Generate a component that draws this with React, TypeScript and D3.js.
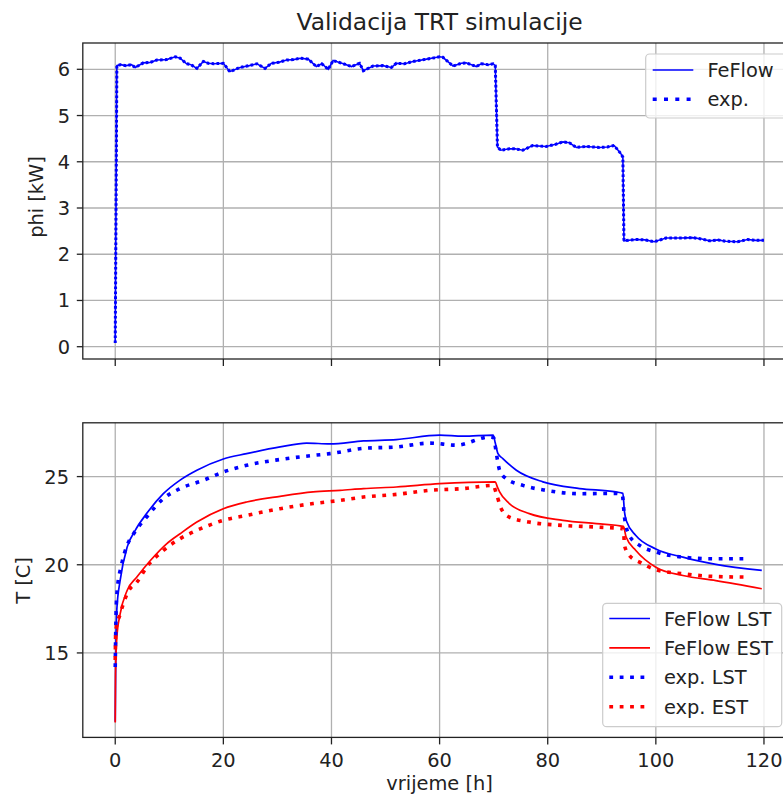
import React from 'react';
import * as d3 from 'd3';

// ---------- data ----------
const chartTitle = 'Validacija TRT simulacije';
const xTicks = [0, 20, 40, 60, 80, 100, 120];
const phiTicks = [0, 1, 2, 3, 4, 5, 6];
const tempTicks = [15, 20, 25];

// heat rate phi [kW] (FeFlow input == experiment)
const phiTime = [0, 0.3, 0.9, 2.0, 3.0, 3.7, 5.2, 6.5, 7.7, 9.5, 11.1, 12.0, 13.2, 14.0, 15.1, 16.3, 17.2, 18.2, 20.0, 21.2, 23.1, 24.8, 26.2, 27.7, 28.9, 30.2, 31.7, 33.0, 34.2, 35.7, 37.2, 38.2, 39.4, 40.3, 42.2, 43.7, 45.2, 45.9, 47.7, 49.5, 51.1, 52.0, 53.5, 55.1, 57.6, 60.0, 60.6, 62.5, 64.0, 64.9, 66.8, 67.7, 69.0, 69.9, 70.3, 70.7, 71.3, 72.9, 74.0, 75.4, 77.2, 79.7, 81.5, 82.8, 84.0, 85.3, 87.1, 89.6, 91.0, 92.3, 93.5, 93.9, 94.1, 96.3, 98.0, 99.7, 101.9, 104.5, 106.8, 108.5, 109.9, 111.5, 112.9, 115.1, 117.0, 118.5, 120.0];
const phiValues = [0.08, 6.08, 6.1, 6.08, 6.1, 6.04, 6.14, 6.15, 6.2, 6.21, 6.27, 6.24, 6.12, 6.1, 6.02, 6.17, 6.13, 6.12, 6.13, 5.95, 6.04, 6.08, 6.12, 6.02, 6.13, 6.15, 6.2, 6.21, 6.24, 6.22, 6.06, 6.12, 6.0, 6.19, 6.12, 6.06, 6.13, 5.97, 6.07, 6.08, 6.04, 6.13, 6.12, 6.17, 6.22, 6.27, 6.26, 6.07, 6.13, 6.14, 6.06, 6.12, 6.1, 6.12, 6.08, 4.32, 4.25, 4.28, 4.28, 4.25, 4.35, 4.33, 4.38, 4.43, 4.41, 4.31, 4.33, 4.31, 4.32, 4.35, 4.18, 4.1, 2.29, 2.32, 2.31, 2.27, 2.35, 2.35, 2.36, 2.33, 2.29, 2.31, 2.28, 2.27, 2.32, 2.3, 2.3];

// FeFlow LST
const lstFeflowTime = [0, 0.1, 0.3, 0.9, 2.2, 3.7, 5.8, 8.9, 12.0, 15.1, 20.0, 24.3, 30.5, 35.4, 39.7, 45.9, 52.0, 60.0, 64.3, 69.9, 70.3, 70.8, 71.7, 74.2, 79.1, 85.9, 92.6, 93.9, 94.2, 94.6, 96.3, 100.0, 105.0, 111.1, 119.6];
const lstFeflowValues = [11.1, 15.0, 17.5, 19.1, 21.0, 21.95, 22.9, 24.03, 24.8, 25.36, 26.0, 26.3, 26.68, 26.9, 26.85, 27.02, 27.1, 27.35, 27.29, 27.35, 26.9, 26.3, 26.02, 25.36, 24.7, 24.32, 24.13, 24.05, 23.0, 22.45, 21.66, 20.9, 20.43, 20.02, 19.68];

// FeFlow EST
const estFeflowTime = [0, 0.05, 0.3, 0.9, 2.2, 4.0, 6.5, 9.5, 12.0, 15.1, 20.0, 24.3, 30.5, 36.6, 41.6, 45.9, 52.0, 60.0, 70.3, 70.7, 71.1, 72.9, 76.6, 82.8, 89.0, 94.0, 94.5, 96.3, 100.0, 105.0, 111.1, 119.6];
const estFeflowValues = [11.06, 13.8, 15.89, 17.2, 18.54, 19.3, 20.24, 21.19, 21.76, 22.42, 23.18, 23.56, 23.88, 24.13, 24.22, 24.32, 24.41, 24.6, 24.7, 24.4, 24.13, 23.47, 22.9, 22.52, 22.33, 22.18, 21.57, 20.81, 19.86, 19.39, 19.1, 18.64];

// experiment LST
const lstExpTime = [0, 0.1, 0.3, 1.2, 2.2, 3.4, 5.8, 8.9, 12.0, 16.3, 20.0, 24.3, 30.5, 36.6, 39.7, 45.9, 52.0, 58.2, 63.1, 69.3, 70.0, 70.5, 71.1, 72.3, 75.4, 79.7, 85.9, 92.6, 93.8, 94.2, 95.1, 97.0, 100.0, 105.0, 110.5, 116.5];
const lstExpValues = [14.2, 16.4, 18.35, 20.05, 21.1, 21.76, 22.7, 23.75, 24.32, 24.79, 25.26, 25.64, 25.97, 26.2, 26.3, 26.6, 26.68, 26.9, 26.78, 27.25, 27.2, 26.3, 25.36, 24.89, 24.5, 24.22, 24.03, 24.05, 23.94, 22.7, 21.66, 21.1, 20.72, 20.43, 20.34, 20.34];

// experiment EST
const estExpTime = [0, 0.1, 0.9, 2.5, 4.0, 5.8, 8.9, 12.0, 15.1, 20.0, 24.3, 30.5, 36.6, 41.6, 45.9, 52.0, 58.2, 64.3, 69.9, 70.5, 71.4, 72.9, 76.6, 82.8, 89.0, 94.0, 94.2, 95.1, 97.0, 100.0, 105.0, 110.5, 117.0];
const estExpValues = [14.6, 16.27, 17.2, 18.54, 19.01, 19.86, 20.81, 21.48, 21.95, 22.52, 22.8, 23.18, 23.47, 23.65, 23.84, 23.99, 24.22, 24.32, 24.5, 24.03, 23.18, 22.7, 22.42, 22.23, 22.14, 22.04, 21.1, 20.53, 20.15, 19.72, 19.49, 19.34, 19.3];

// ---------- layout ----------
const W = 783;
const H = 799;
const FONT = 'DejaVu Sans';
const TXT = '#222';
const BLUE = '#0000ff';
const RED = '#ff0000';
const FS = 19.4;

const ax = { left: 82.8, right: 796.4 };
const top = { y0: 43, y1: 359 };
const bot = { y0: 422.8, y1: 737.4 };

const x = d3.scaleLinear().domain([-6, 126]).range([ax.left, ax.right]);
const yPhi = d3.scaleLinear().domain([-0.266, 6.569]).range([top.y1, top.y0]);
const yT = d3.scaleLinear().domain([10.21, 28.05]).range([bot.y1, bot.y0]);

const zip = (t: number[], v: number[]) => t.map((ti, i) => [ti, v[i]] as [number, number]);

const Txt = ({ x: tx, y: ty, anchor = 'start', size = FS, rot = false, children }: any) => (
  <text
    transform={`translate(${tx},${ty})${rot ? ' rotate(-90)' : ''}`}
    textAnchor={anchor}
    fontSize={size}
    fontFamily={FONT}
    fill={TXT}
  >
    {children}
  </text>
);

export default function App() {
  const linePhi = d3
    .line<[number, number]>()
    .x((d) => x(d[0]))
    .y((d) => yPhi(d[1]))
    .curve(d3.curveLinear);
  const lineT = d3
    .line<[number, number]>()
    .x((d) => x(d[0]))
    .y((d) => yT(d[1]))
    .curve(d3.curveMonotoneX);

  const phiPath = linePhi(zip(phiTime, phiValues)) || '';

  const dotBot = '3.8 6.6';
  const dotTop = '2.6 2.3';

  const topLegend = { x: 645.7, y: 54, w: 145, h: 64 };
  const botLegend = { x: 602.7, y: 603.3, w: 179, h: 123.4 };
  const botRows = [
    { label: 'FeFlow LST', color: BLUE, dash: null },
    { label: 'FeFlow EST', color: RED, dash: null },
    { label: 'exp. LST', color: BLUE, dash: dotBot },
    { label: 'exp. EST', color: RED, dash: dotBot },
  ];

  return (
    <svg
      width={W}
      height={H}
      style={{ position: 'absolute', left: 0, top: 0, background: '#fff' }}
    >
      <defs>
        <clipPath id="clipTop">
          <rect x={ax.left} y={top.y0} width={ax.right - ax.left} height={top.y1 - top.y0} />
        </clipPath>
        <clipPath id="clipBot">
          <rect x={ax.left} y={bot.y0} width={ax.right - ax.left} height={bot.y1 - bot.y0} />
        </clipPath>
      </defs>
      <rect x={0} y={0} width={W} height={H} fill="#fff" />

      {/* title */}
      <Txt x={(ax.left + ax.right) / 2} y={30} anchor="middle" size={23.4}>
        {chartTitle}
      </Txt>

      {/* ===== top axes ===== */}
      <g>
        {xTicks.map((t) => (
          <line key={'gxt' + t} x1={x(t)} x2={x(t)} y1={top.y0} y2={top.y1} stroke="#b0b0b0" strokeWidth={1.3} />
        ))}
        {phiTicks.map((v) => (
          <line key={'gyt' + v} x1={ax.left} x2={ax.right} y1={yPhi(v)} y2={yPhi(v)} stroke="#b0b0b0" strokeWidth={1.3} />
        ))}
        <g clipPath="url(#clipTop)">
          <path d={phiPath} fill="none" stroke={BLUE} strokeWidth={1.6} />
          <path d={phiPath} fill="none" stroke={BLUE} strokeWidth={3} strokeDasharray={dotTop} />
        </g>
        <rect x={ax.left} y={top.y0} width={ax.right - ax.left} height={top.y1 - top.y0} fill="none" stroke="#222" strokeWidth={1.3} />
        {xTicks.map((t) => (
          <line key={'txt' + t} x1={x(t)} x2={x(t)} y1={top.y1} y2={top.y1 + 7} stroke="#222" strokeWidth={1.3} />
        ))}
        {phiTicks.map((v) => (
          <g key={'tyt' + v}>
            <line x1={ax.left - 6} x2={ax.left} y1={yPhi(v)} y2={yPhi(v)} stroke="#222" strokeWidth={1.3} />
            <Txt x={70} y={yPhi(v) + 7} anchor="end">
              {v}
            </Txt>
          </g>
        ))}
        <Txt x={42.5} y={197} anchor="middle" rot>
          phi [kW]
        </Txt>

        {/* top legend */}
        <rect x={topLegend.x} y={topLegend.y} width={topLegend.w} height={topLegend.h} rx={4} fill="#fff" fillOpacity={0.8} stroke="#cccccc" strokeWidth={1.2} />
        <line x1={652.7} x2={693.3} y1={70} y2={70} stroke={BLUE} strokeWidth={1.6} />
        <line x1={652.7} x2={693.3} y1={99.3} y2={99.3} stroke={BLUE} strokeWidth={3.6} strokeDasharray="4 7.3" />
        <Txt x={707.4} y={77}>
          FeFlow
        </Txt>
        <Txt x={707.4} y={106.3}>
          exp.
        </Txt>
      </g>

      {/* ===== bottom axes ===== */}
      <g>
        {xTicks.map((t) => (
          <line key={'gxb' + t} x1={x(t)} x2={x(t)} y1={bot.y0} y2={bot.y1} stroke="#b0b0b0" strokeWidth={1.3} />
        ))}
        {tempTicks.map((v) => (
          <line key={'gyb' + v} x1={ax.left} x2={ax.right} y1={yT(v)} y2={yT(v)} stroke="#b0b0b0" strokeWidth={1.3} />
        ))}
        <g clipPath="url(#clipBot)">
          <path d={lineT(zip(lstFeflowTime, lstFeflowValues)) || ''} fill="none" stroke={BLUE} strokeWidth={1.7} />
          <path d={lineT(zip(estFeflowTime, estFeflowValues)) || ''} fill="none" stroke={RED} strokeWidth={1.7} />
          <path d={lineT(zip(lstExpTime, lstExpValues)) || ''} fill="none" stroke={BLUE} strokeWidth={3.6} strokeDasharray={dotBot} />
          <path d={lineT(zip(estExpTime, estExpValues)) || ''} fill="none" stroke={RED} strokeWidth={3.6} strokeDasharray={dotBot} />
        </g>
        <rect x={ax.left} y={bot.y0} width={ax.right - ax.left} height={bot.y1 - bot.y0} fill="none" stroke="#222" strokeWidth={1.3} />
        {xTicks.map((t) => (
          <g key={'txb' + t}>
            <line x1={x(t)} x2={x(t)} y1={bot.y1} y2={bot.y1 + 7} stroke="#222" strokeWidth={1.3} />
            <Txt x={x(t)} y={767} anchor="middle">
              {t}
            </Txt>
          </g>
        ))}
        {tempTicks.map((v) => (
          <g key={'tyb' + v}>
            <line x1={ax.left - 6} x2={ax.left} y1={yT(v)} y2={yT(v)} stroke="#222" strokeWidth={1.3} />
            <Txt x={69} y={yT(v) + 7} anchor="end">
              {v}
            </Txt>
          </g>
        ))}
        <Txt x={30} y={580.5} anchor="middle" rot>
          T [C]
        </Txt>
        <Txt x={(ax.left + ax.right) / 2} y={790} anchor="middle">
          vrijeme [h]
        </Txt>

        {/* bottom legend */}
        <rect x={botLegend.x} y={botLegend.y} width={botLegend.w} height={botLegend.h} rx={4} fill="#fff" fillOpacity={0.8} stroke="#cccccc" strokeWidth={1.2} />
        {botRows.map((r, i) => {
          const yy = 618.5 + i * 29.4;
          return (
            <g key={r.label}>
              <line
                x1={609.3}
                x2={650}
                y1={yy}
                y2={yy}
                stroke={r.color}
                strokeWidth={r.dash ? 3.6 : 1.7}
                strokeDasharray={r.dash || undefined}
              />
              <Txt x={664} y={yy + 7}>
                {r.label}
              </Txt>
            </g>
          );
        })}
      </g>
    </svg>
  );
}
